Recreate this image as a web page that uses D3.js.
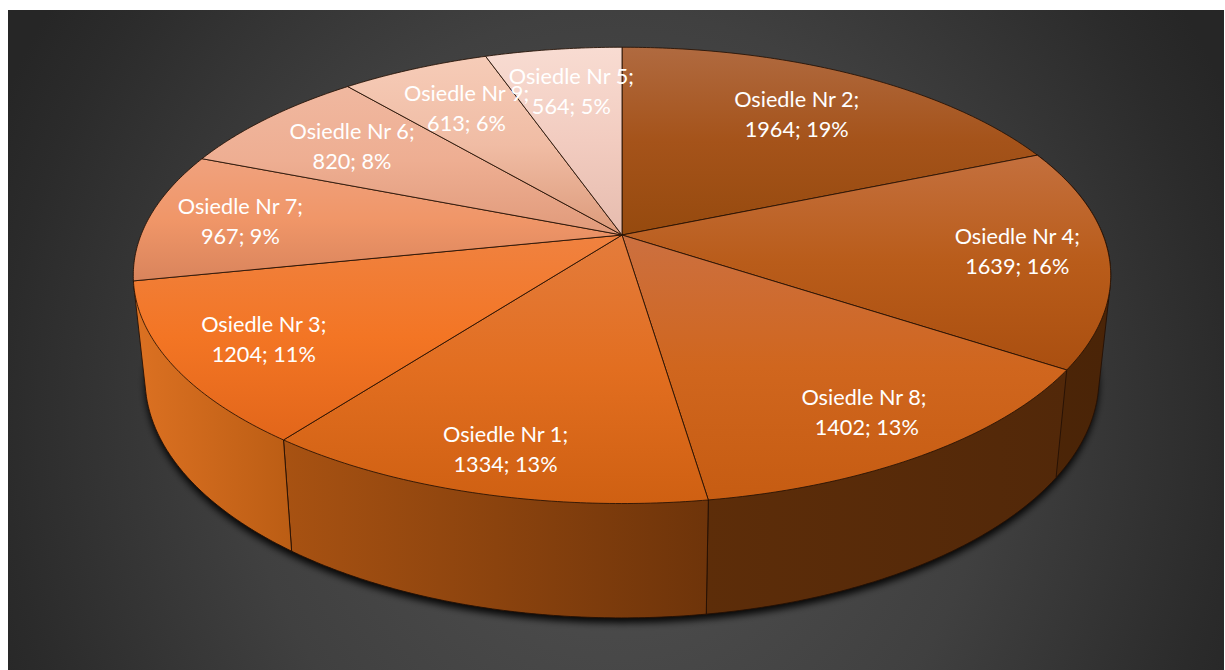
<!DOCTYPE html>
<html><head><meta charset="utf-8">
<script src="https://cdn.jsdelivr.net/npm/d3@7"></script>
<style>html,body{margin:0;padding:0;background:#fff;overflow:hidden}svg{display:block}</style>
</head><body>
<svg id="chart" width="1225" height="670"></svg>
<script>
const categories = ["Osiedle Nr 2","Osiedle Nr 4","Osiedle Nr 8","Osiedle Nr 1","Osiedle Nr 3","Osiedle Nr 7","Osiedle Nr 6","Osiedle Nr 9","Osiedle Nr 5"];
const values = [1964,1639,1402,1334,1204,967,820,613,564];
// top-face shading: [top, middle, bottom]
const topColors = [
 ["#b06a40","#a5531a","#964a0e"],
 ["#c4703e","#b95c1a","#aa4f10"],
 ["#cc7040","#d0661e","#c65c12"],
 ["#e47c3c","#e26e20","#cf6012"],
 ["#f08240","#f37524","#e2661a"],
 ["#f0a27e","#f09668","#d9845c"],
 ["#f0b8a0","#eeae92","#e09a7a"],
 ["#f6ccb8","#f0bca4","#dc9a7a"],
 ["#f8dcd2","#f2ccc0","#e6bcae"]];
// side-wall shading: [left, right], by slice index
const wallColors = {1:["#4c2507","#4a2407"],2:["#5d2d09","#522809"],3:["#a85212","#6e340a"],4:["#dc7122","#bb5d14"]};
const labelNudge = [[-16,12],[7,0],[7,9],[-6,16],[-6,3],[-3,2],[19,7],[15,11],[6,10]];
const labelLead = {2:"\u00a0"};

const W=1225,H=670,cx=622,cy=235,A=481,K=221,P=0.177;
const BA=A*0.976,BK=232,BY=336;
const svg=d3.select("#chart"),defs=svg.append("defs");
const project=(th,r=1)=>{const u=Math.sin(th)*r,v=-Math.cos(th)*r,d=1-P*v;return [cx+A*u/d,cy+K*v/d];};
const projectB=(th)=>{const u=Math.sin(th),v=-Math.cos(th),d=1-P*v;return [cx+BA*u/d,BY+BK*v/d];};
const line=d3.line();
const arcPts=(a,b,f)=>{const n=Math.max(8,Math.ceil((b-a)/0.01));return d3.range(n+1).map(i=>f(a+(b-a)*i/n));};

const bg=defs.append("radialGradient").attr("id","bg").attr("gradientUnits","userSpaceOnUse")
 .attr("cx",0).attr("cy",0).attr("r",1)
 .attr("gradientTransform","translate(616,420) scale(680,745)");
bg.append("stop").attr("offset",0).attr("stop-color","#535353");
bg.append("stop").attr("offset",0.55).attr("stop-color","#404040");
bg.append("stop").attr("offset",0.9).attr("stop-color","#2b2b2b");
bg.append("stop").attr("offset",1).attr("stop-color","#262626");
const blur=defs.append("filter").attr("id","blur").attr("x","-10%").attr("y","-10%").attr("width","120%").attr("height","120%");
blur.append("feGaussianBlur").attr("stdDeviation",3.5);

svg.append("rect").attr("x",8).attr("y",10).attr("width",W-9).attr("height",H-10).attr("fill","url(#bg)");

const pie=d3.pie().sort(null).value(d=>d)(values);
const total=d3.sum(values),pct=d3.format(".0%");

topColors.forEach((c,i)=>{
 const g=defs.append("linearGradient").attr("id","t"+i).attr("x1",0).attr("y1",0).attr("x2",0).attr("y2",1);
 [0,0.5,1].forEach((o,j)=>g.append("stop").attr("offset",o).attr("stop-color",c[j]));
});
Object.entries(wallColors).forEach(([i,c])=>{
 const g=defs.append("linearGradient").attr("id","w"+i).attr("x1",0).attr("y1",0).attr("x2",1).attr("y2",0);
 g.append("stop").attr("offset",0).attr("stop-color",c[0]);
 g.append("stop").attr("offset",1).attr("stop-color",c[1]);
});

// soft shadow under the base
svg.append("path").attr("d",line(arcPts(0,2*Math.PI,projectB))+"Z")
 .attr("transform","translate(0,5)").attr("fill","#000").attr("fill-opacity",0.9).attr("filter","url(#blur)");

// side walls: convex hull of each slice's top and bottom rim
const stroke="#241004";
svg.append("g").selectAll("path").data(pie.filter((d,i)=>wallColors[i])).join("path")
 .attr("d",d=>line(d3.polygonHull(arcPts(d.startAngle,d.endAngle,project).concat(arcPts(d.startAngle,d.endAngle,projectB))))+"Z")
 .attr("fill",d=>"url(#w"+d.index+")")
 .attr("stroke",stroke).attr("stroke-width",0.9).attr("stroke-linejoin","round");

// top face
svg.append("g").selectAll("path").data(pie).join("path")
 .attr("d",d=>line([[cx,cy]].concat(arcPts(d.startAngle,d.endAngle,project)))+"Z")
 .attr("fill",(d,i)=>"url(#t"+i+")")
 .attr("stroke",stroke).attr("stroke-opacity",0.85).attr("stroke-width",1).attr("stroke-linejoin","round");

// labels
const labels=svg.append("g").attr("font-family","Lato").attr("font-size",21.7).attr("fill","#fff").attr("text-anchor","middle");
pie.forEach((d,i)=>{
 const [x,y]=project((d.startAngle+d.endAngle)/2,0.8);
 const lx=x+labelNudge[i][0],ly=y+labelNudge[i][1];
 labels.append("text").attr("x",lx).attr("y",ly-8).text(categories[i]+";");
 labels.append("text").attr("x",lx).attr("y",ly+22).text((labelLead[i]||"")+d.value+"; "+pct(d.value/total));
});
</script>
</body></html>
